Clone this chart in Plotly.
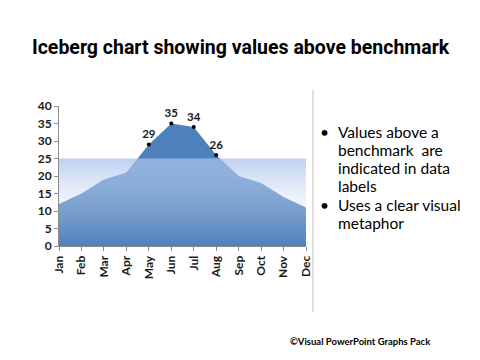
import plotly.graph_objects as go

months = ["Jan", "Feb", "Mar", "Apr", "May", "Jun", "Jul", "Aug", "Sep", "Oct", "Nov", "Dec"]
values = [12, 15, 19, 21, 29, 35, 34, 26, 20, 18, 14, 11]
benchmark = 25
y_ticks = [0, 5, 10, 15, 20, 25, 30, 35, 40]

OFF = 8  # page body margin
W, H = 480 - OFF, 360 - OFF
def px(x): return (x - OFF) / W
def py(y): return 1 - (y - OFF) / H

above_x = [m for m, v in zip(months, values) if v > benchmark]
above_y = [v for v in values if v > benchmark]

fig = go.Figure()
fig.add_trace(go.Scatter(
    x=months, y=values, mode="lines", fill="tozeroy",
    line=dict(width=0, color="#4f81bd"), fillcolor="#4f81bd",
    hoverinfo="skip", showlegend=False))
fig.add_trace(go.Scatter(
    x=months, y=[benchmark] * len(months), mode="lines", fill="tozeroy",
    line=dict(width=0, color="rgba(0,0,0,0)"),
    fillgradient=dict(type="vertical", start=0, stop=benchmark,
                      colorscale=[[0, "rgba(255,255,255,0)"],
                                  [0.35, "rgba(225,233,247,0.25)"],
                                  [1, "rgba(168,193,235,0.75)"]]),
    hoverinfo="skip", showlegend=False))
fig.add_trace(go.Scatter(
    x=above_x, y=above_y, mode="markers+text",
    marker=dict(size=4, color="black"),
    text=[str(v) for v in above_y], textposition="top center",
    textfont=dict(family="Lato, Liberation Sans, sans-serif", size=11.5, color="#1a1a1a", weight="bold"),
    showlegend=False))

axis_font = dict(family="Lato, Liberation Sans, sans-serif", size=12, color="#1a1a1a", weight="bold")
fig.update_layout(
    width=W, height=H, margin=dict(l=0, r=0, t=0, b=0),
    paper_bgcolor="white", plot_bgcolor="white",
    xaxis=dict(domain=[px(59), px(306)], type="category", range=[0, len(months) - 1],
               showgrid=False, zeroline=False, showline=True, linecolor="#8c8c8c",
               ticks="outside", ticklen=4, tickcolor="#8c8c8c", tickangle=-90,
               tickfont=axis_font, fixedrange=True, automargin=False),
    yaxis=dict(domain=[py(246), py(106)], range=[0, 40], tickvals=y_ticks,
               showgrid=False, zeroline=False, showline=True, linecolor="#8c8c8c",
               ticks="outside", ticklen=4, tickcolor="#8c8c8c",
               tickfont=axis_font, fixedrange=True, automargin=False),
    font=dict(family="Lato, Liberation Sans, sans-serif"),
)

fig.add_shape(type="line", xref="paper", yref="paper",
              x0=px(313), x1=px(313), y0=py(90), y1=py(312),
              line=dict(color="#bfbfbf", width=1))

fig.add_annotation(xref="paper", yref="paper", x=px(241), y=py(47),
                   text="<b>Iceberg chart showing values above benchmark</b>",
                   showarrow=False, xanchor="center", yanchor="middle",
                   font=dict(family="Roboto, Liberation Sans, sans-serif", size=19.5, color="black"))

bullets = [
    (132, "•", "Values above a"),
    (150, "", "benchmark  are"),
    (168, "", "indicated in data"),
    (186, "", "labels"),
    (205, "•", "Uses a clear visual"),
    (223, "", "metaphor"),
]
bfont = dict(family="Lato, Liberation Sans, sans-serif", size=15.5, color="black")
for y, b, t in bullets:
    if b:
        fig.add_annotation(xref="paper", yref="paper", x=px(318), y=py(y), text=b,
                           showarrow=False, xanchor="left", yanchor="middle", font=bfont)
    fig.add_annotation(xref="paper", yref="paper", x=px(336), y=py(y), text=t,
                       showarrow=False, xanchor="left", yanchor="middle", font=bfont)

fig.add_annotation(xref="paper", yref="paper", x=px(288), y=py(341),
                   text="<b>©Visual PowerPoint Graphs Pack</b>",
                   showarrow=False, xanchor="left", yanchor="middle",
                   font=dict(family="Lato, Liberation Sans, sans-serif", size=9.5, color="black"))

fig.write_html("out.html")
